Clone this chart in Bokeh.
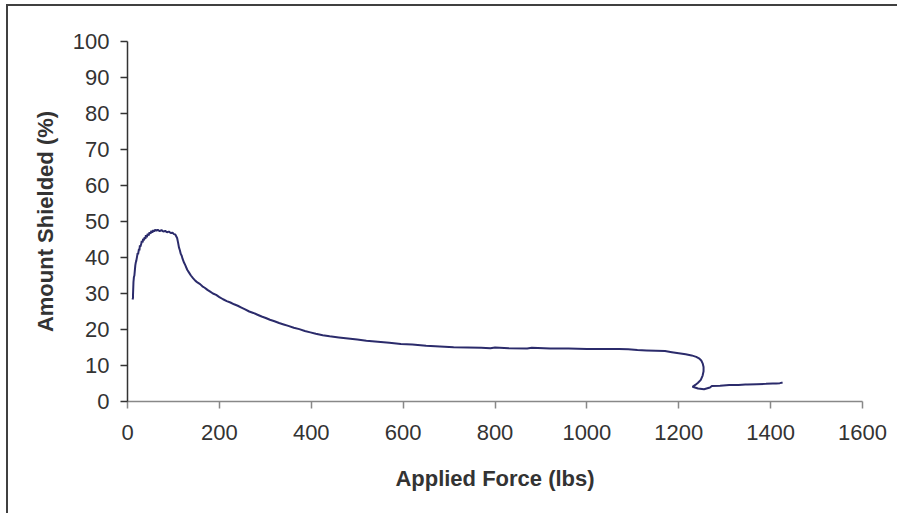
from bokeh.plotting import figure
from bokeh.models import Range1d, FixedTicker
from bokeh.embed import file_html
from bokeh.resources import INLINE

# Applied force (lbs) and amount shielded (%)
force = [11, 12, 12, 13, 14, 15, 16, 17, 18, 19, 21, 22, 23, 25, 26, 27, 28, 30,
         31, 33, 34, 36, 37, 39, 40, 42, 44, 46, 48, 50, 52, 54, 56, 58, 60, 63,
         66, 70, 74, 78, 82, 86, 90, 94, 98, 101, 104, 106, 108,
         110, 112, 114, 116, 118, 120, 123, 126, 130, 134, 138, 143, 148, 153,
         158, 163, 168, 174, 180, 186, 193, 200, 208, 216, 224, 232, 240, 248,
         256, 265, 274, 283, 292, 301, 310, 320, 330, 340, 350, 362, 374, 386,
         398, 410, 425, 440, 460, 480, 500, 520, 545, 570, 595, 620, 650, 680,
         710, 740, 770, 790, 800, 830, 870, 880, 920, 960, 1000, 1040, 1070,
         1090, 1110, 1130, 1150, 1170, 1185, 1200, 1215, 1228, 1238, 1244, 1249,
         1252, 1254, 1254, 1252, 1248, 1242, 1236, 1230,
         1242, 1255, 1268, 1272, 1290, 1310, 1330, 1345, 1350, 1370, 1390, 1405,
         1412, 1420, 1424, 1426]
shielded = [28.3, 28.8, 29.6, 33.2, 34.6, 35.0, 36.4, 37.8, 38.6, 39.0, 40.4,
            41.2, 40.9, 42.4, 42.0, 43.4, 43.0, 43.8, 44.6, 44.2, 45.2, 44.8,
            45.6, 45.2, 46.2, 45.6, 46.6, 46.1, 47.0, 46.6, 47.4, 46.9, 47.6,
            47.2, 47.7, 47.5, 47.7, 47.3, 47.6, 47.2, 47.4, 47.0, 47.2, 46.8,
            46.9, 46.5, 46.4, 45.9, 45.4,
            44.2, 42.8, 42.0, 41.0, 40.5, 39.6, 38.6, 37.8, 36.6, 35.8, 35.0,
            34.2, 33.5, 33.0, 32.6, 32.0, 31.6, 31.0, 30.5, 30.0, 29.6, 29.0,
            28.4, 27.9, 27.5, 27.0, 26.6, 26.1, 25.6, 25.0, 24.6, 24.1, 23.6,
            23.2, 22.7, 22.3, 21.8, 21.4, 21.0, 20.5, 20.1, 19.6, 19.2, 18.8,
            18.4, 18.1, 17.8, 17.5, 17.2, 16.9, 16.6, 16.3, 16.0, 15.8, 15.5,
            15.3, 15.1, 15.0, 14.9, 14.8, 15.0, 14.8, 14.7, 14.9, 14.7, 14.7,
            14.6, 14.6, 14.6, 14.5, 14.3, 14.2, 14.1, 14.0, 13.7, 13.4, 13.1,
            12.8, 12.4, 12.0, 11.4, 10.6, 9.6, 8.4, 7.2, 6.0, 5.2, 4.6, 4.1,
            3.6, 3.4,
            3.9, 4.3, 4.4, 4.6, 4.6, 4.7, 4.7, 4.8, 4.9, 5.0, 5.0, 5.1, 5.2,
            5.3, 5.5, 5.7]

x_ticks = [0, 200, 400, 600, 800, 1000, 1200, 1400, 1600]
y_ticks = [0, 10, 20, 30, 40, 50, 60, 70, 80, 90, 100]

FONT = "Liberation Sans"
TEXT = "#333333"

p = figure(width=891, height=509, output_backend="svg", toolbar_location=None,
           x_range=Range1d(0, 1600), y_range=Range1d(0, 100),
           min_border_left=119, min_border_right=37,
           min_border_top=35, min_border_bottom=114)
# chart-area frame: only its top and left edges fall inside the page
p.styles = {"margin-left": "6px", "margin-top": "4px",
            "border-left": "2px solid #404040", "border-top": "2px solid #404040"}
p.outline_line_color = None
p.grid.visible = False
p.background_fill_color = "white"
p.border_fill_color = "white"

p.line(force, shielded, line_color="#2b2b6b", line_width=2)

for ax, ticks in ((p.xaxis[0], x_ticks), (p.yaxis[0], y_ticks)):
    ax.ticker = FixedTicker(ticks=ticks)
    ax.major_tick_out = 7
    ax.major_tick_in = 0
    ax.minor_tick_line_color = None
    ax.major_label_text_font = FONT
    ax.major_label_text_font_size = "22px"
    ax.major_label_text_color = TEXT
    ax.axis_label_text_font = FONT
    ax.axis_label_text_font_size = "22px"
    ax.axis_label_text_font_style = "bold"
    ax.axis_label_text_color = TEXT
    ax.axis_line_width = 1.5
    ax.major_tick_line_width = 1.5

p.xaxis.axis_label = "Applied Force (lbs)"
p.yaxis.axis_label = "Amount Shielded (%)"
p.xaxis.axis_line_color = "#888888"
p.xaxis.major_tick_line_color = "#888888"
p.yaxis.axis_line_color = "#333333"
p.yaxis.major_tick_line_color = "#333333"
p.xaxis.major_label_standoff = 16
p.yaxis.major_label_standoff = 11
p.xaxis.axis_label_standoff = 23
p.yaxis.axis_label_standoff = 12

open("out.html", "w").write(file_html(p, INLINE))
